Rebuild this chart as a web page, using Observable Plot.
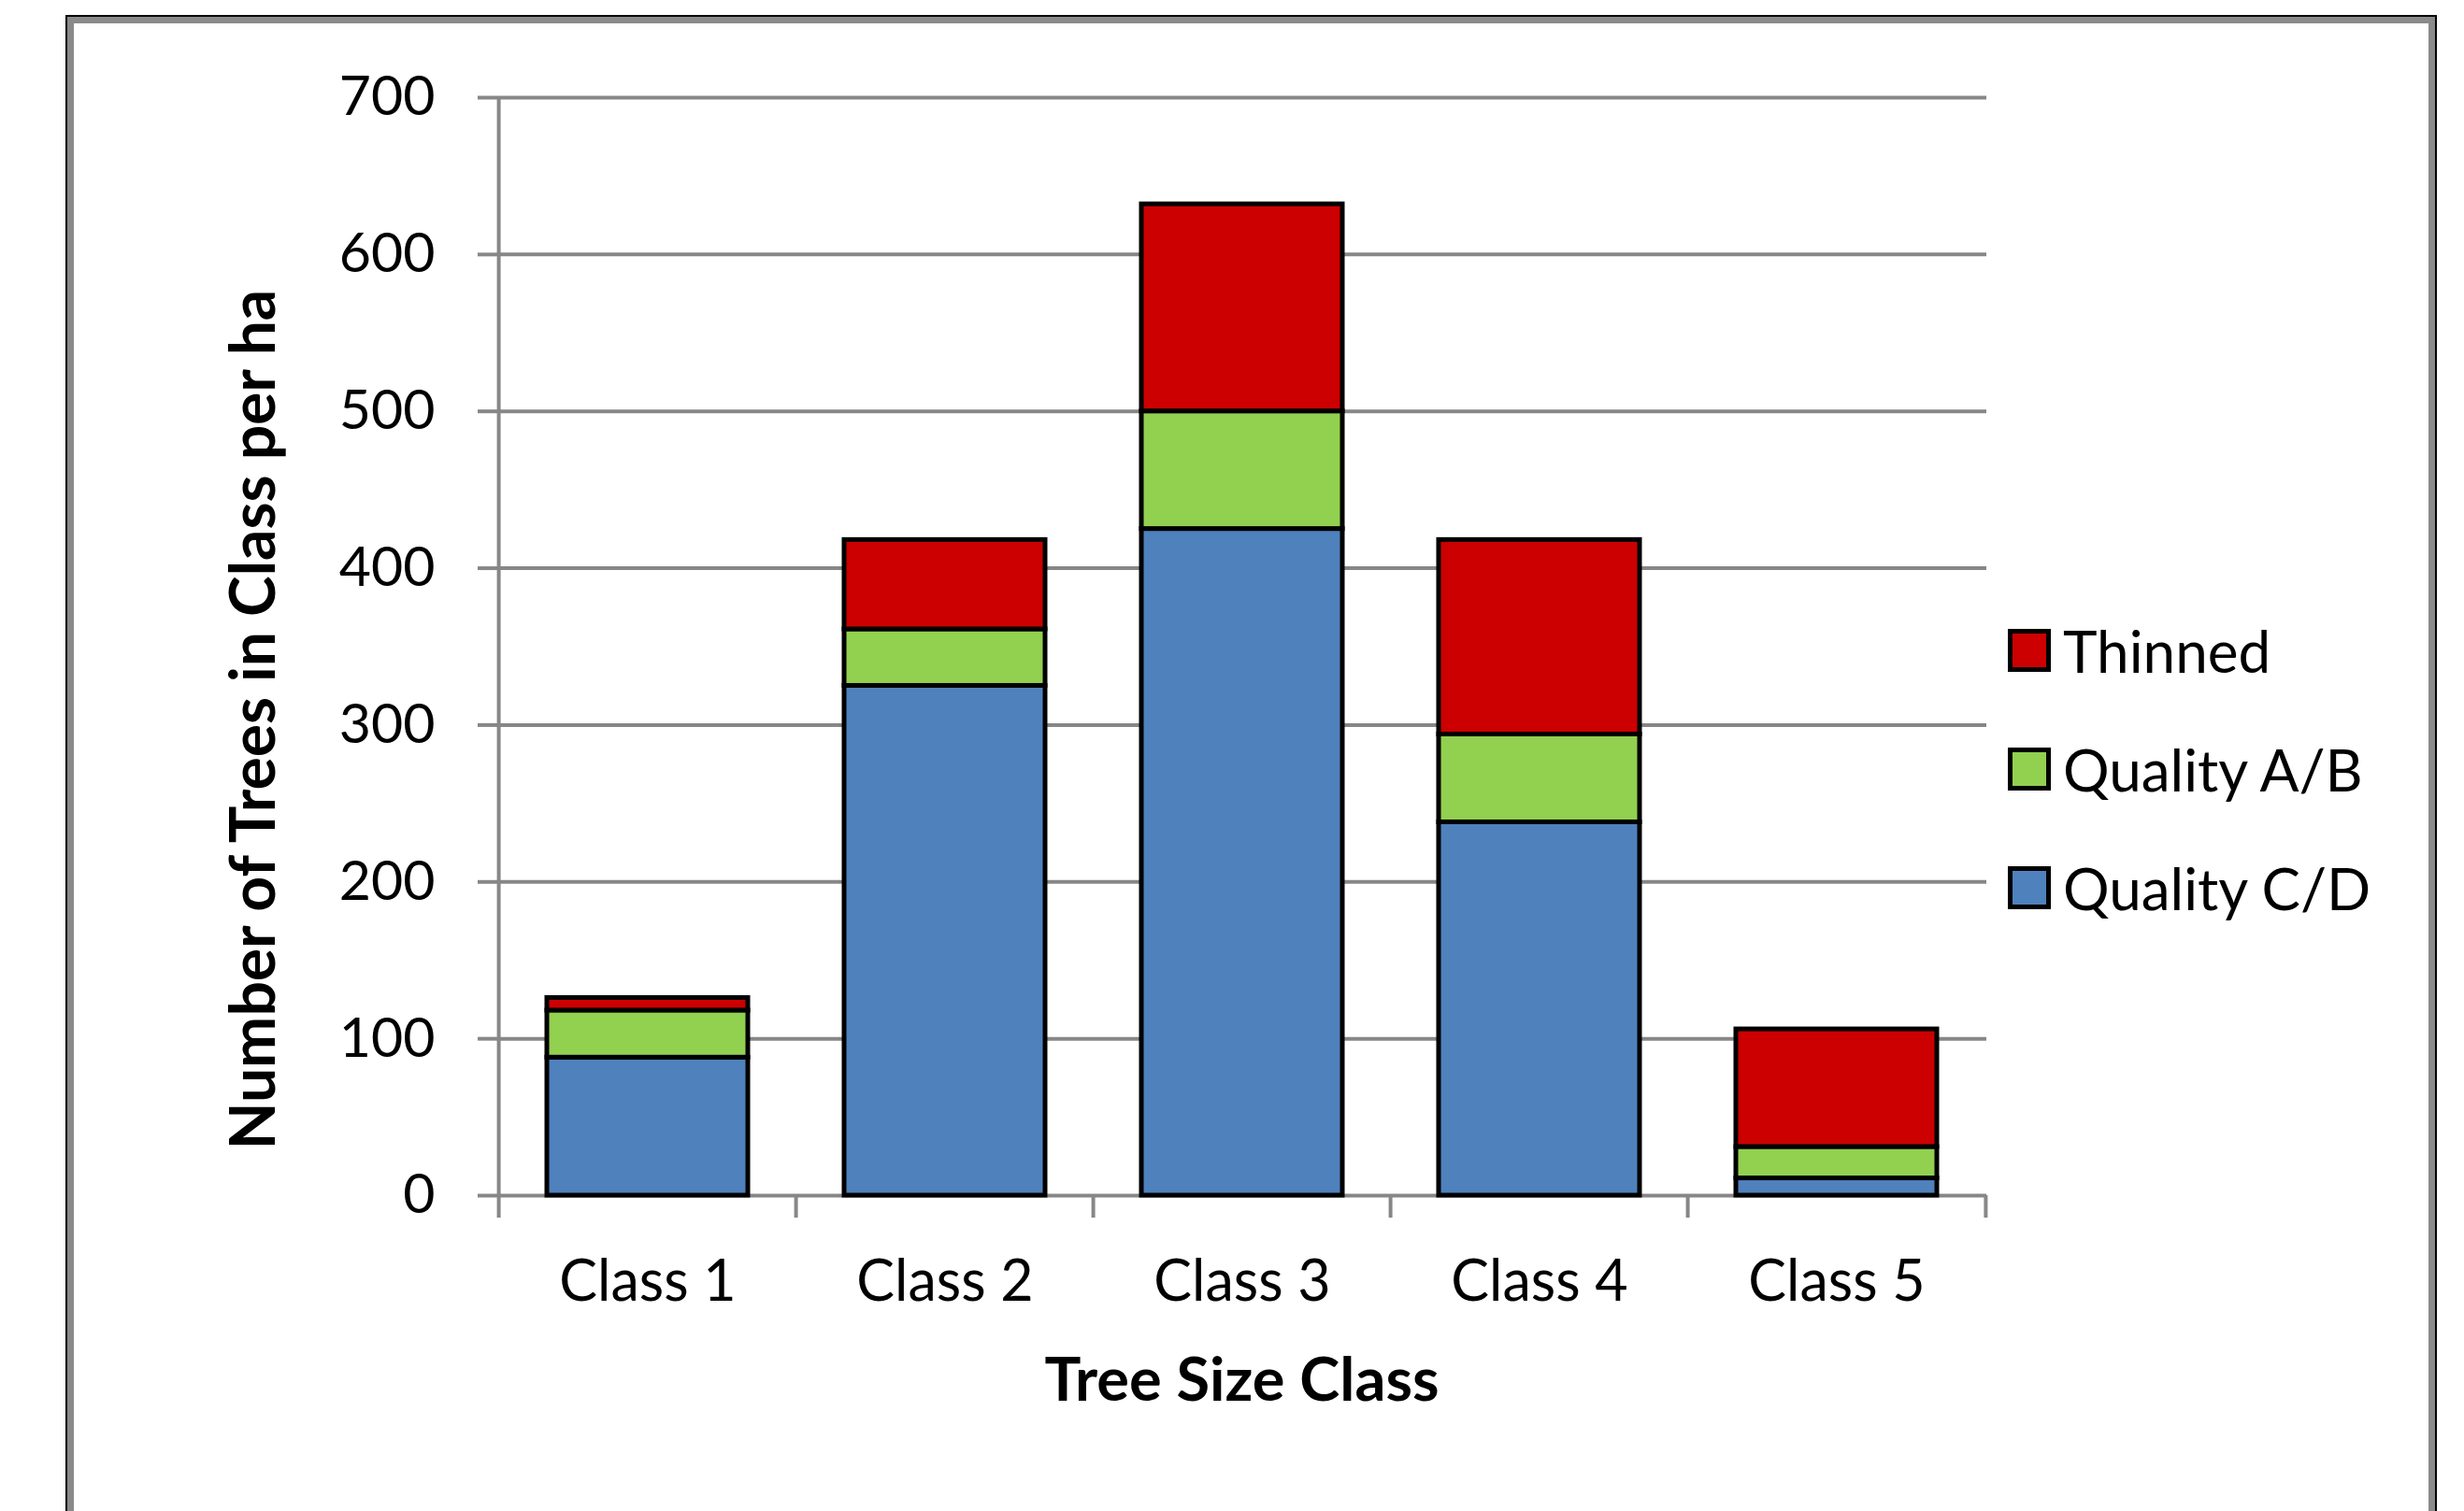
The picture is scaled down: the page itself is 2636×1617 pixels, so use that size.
<!DOCTYPE html>
<html>
<head>
<meta charset="utf-8">
<script src="https://cdn.jsdelivr.net/npm/d3@7"></script>
<script src="https://cdn.jsdelivr.net/npm/@observablehq/plot@0.6"></script>
<style>
  html, body { margin: 0; padding: 0; background: #fff; overflow: hidden; }
  #wrap { position: relative; width: 2636px; height: 1617px; overflow: hidden; font-family: Lato, sans-serif; }
  #frame { position: absolute; left: 70px; top: 16px; width: 2533px; height: 1700px;
           border: 2px solid #000; box-shadow: inset 0 0 0 7px #8a8a8a; }
  #chart { position: absolute; left: 0; top: 0; }
  #legend { position: absolute; left: 2148px; top: 0; }
  .item { position: absolute; left: 0; display: flex; align-items: center; white-space: nowrap;
          font-size: 62px; color: #000; height: 60px; }
  .sw { width: 36px; height: 36px; border: 5px solid #000; margin-right: 13px; }
</style>
</head>
<body>
<div id="wrap">
  <div id="frame"></div>
  <div id="chart"></div>
  <div id="legend"></div>
</div>
<script>
const classes = ["Class 1", "Class 2", "Class 3", "Class 4", "Class 5"];
const series = ["Quality C/D", "Quality A/B", "Thinned"];
const colors = ["#4F81BD", "#92D050", "#CC0000"];
const qualityCD = [88, 325, 425, 238, 11];
const qualityAB = [30, 36, 75, 56, 20];
const thinned = [8, 57, 132, 124, 75];
const yTicks = [0, 100, 200, 300, 400, 500, 600, 700];
const legendOrder = ["Thinned", "Quality A/B", "Quality C/D"];

const valuesBySeries = [qualityCD, qualityAB, thinned];
const data = [];
classes.forEach((c, i) => {
  series.forEach((s, j) => data.push({cls: c, series: s, value: valuesBySeries[j][i]}));
});

const W = 2636, H = 1617;
const mL = 531, mR = 511, mT = 104, mB = 338;
const step = (W - mL - mR) / classes.length;
const grid = "#878787";

const chart = Plot.plot({
  width: W, height: H,
  marginLeft: mL, marginRight: mR, marginTop: mT, marginBottom: mB,
  style: {background: "transparent", fontFamily: "Lato, sans-serif", fontSize: "59px", color: "#000"},
  x: {domain: classes, paddingInner: 0.325, paddingOuter: 0.1625, label: null},
  y: {domain: [0, 700], label: null},
  color: {domain: series, range: colors},
  marks: [
    Plot.ruleY(yTicks, {stroke: grid, strokeWidth: 4}),
    Plot.axisY({ticks: yTicks, tickSize: 20, tickPadding: 46, stroke: grid, strokeWidth: 4, label: null, tickFormat: d => String(d)}),
    Plot.ruleX([classes[0]], {x: d => d, dx: -step / 2, y1: 700, y2: 0, insetBottom: -24, stroke: grid, strokeWidth: 4}),
    Plot.ruleX(classes.slice(1), {x: d => d, dx: -step / 2, y1: 0, y2: 0, insetBottom: -24, stroke: grid, strokeWidth: 4}),
    Plot.ruleX([classes[classes.length - 1]], {x: d => d, dx: step / 2, y1: 0, y2: 0, insetBottom: -24, stroke: grid, strokeWidth: 4}),
    Plot.barY(data, {x: "cls", y: "value", fill: "series", stroke: "#000", strokeWidth: 5}),
    Plot.axisX({tickSize: 0, tickPadding: 69, label: null, fontSize: 61}),
    Plot.text(["Tree Size Class"], {text: d => d, frameAnchor: "bottom", dy: 199, lineAnchor: "middle", fontWeight: "bold", fontSize: 65}),
    Plot.text(["Number of Trees in Class per ha"], {text: d => d, frameAnchor: "left", rotate: -90, dx: -259, dy: 78, textAnchor: "middle", lineAnchor: "middle", fontWeight: "bold", fontSize: 66})
  ]
});
document.getElementById("chart").appendChild(chart);

const legend = document.getElementById("legend");
const rowCenters = [696, 823, 950];
legendOrder.forEach((s, k) => {
  const item = document.createElement("div");
  item.className = "item";
  item.style.top = (rowCenters[k] - 30) + "px";
  const sw = document.createElement("div");
  sw.className = "sw";
  sw.style.background = colors[series.indexOf(s)];
  const t = document.createElement("span");
  t.textContent = s;
  item.appendChild(sw);
  item.appendChild(t);
  legend.appendChild(item);
});
</script>
</body>
</html>
